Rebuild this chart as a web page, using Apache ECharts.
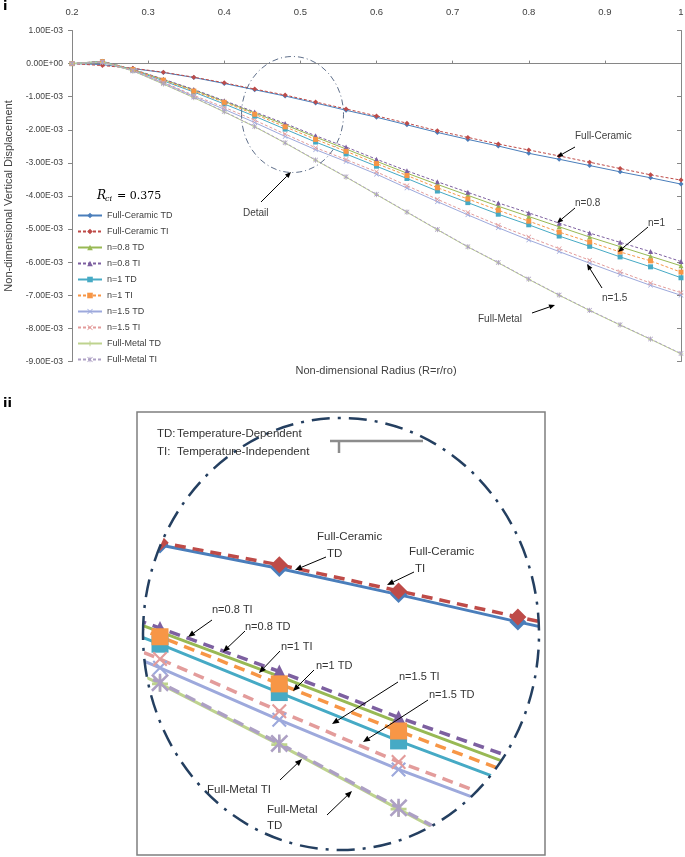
<!DOCTYPE html>
<html><head><meta charset="utf-8">
<script src="https://cdn.jsdelivr.net/npm/echarts@6/dist/echarts.min.js"></script>
<style>html,body{margin:0;padding:0;background:#fff}#c{width:685px;height:857px}</style>
</head><body><div id="c"></div>
<script>
// ---- data (displacement values in units of 1e-3) ----
const UNIT = 1e-3;
const radius = [0.20,0.24,0.28,0.32,0.36,0.40,0.44,0.48,0.52,0.56,0.60,0.64,0.68,0.72,0.76,0.80,0.84,0.88,0.92,0.96,1.00];
const fullCeramicTD = [0,-0.03,-0.15,-0.27,-0.42,-0.60,-0.79,-0.98,-1.19,-1.41,-1.62,-1.85,-2.08,-2.29,-2.49,-2.71,-2.89,-3.08,-3.27,-3.45,-3.64];
const fullCeramicTI = [0,-0.06,-0.14,-0.26,-0.41,-0.58,-0.77,-0.95,-1.16,-1.37,-1.58,-1.80,-2.03,-2.23,-2.43,-2.61,-2.79,-2.98,-3.17,-3.36,-3.52];
const n08TD = [0,0.07,-0.18,-0.48,-0.80,-1.14,-1.49,-1.85,-2.22,-2.58,-2.95,-3.31,-3.65,-3.98,-4.31,-4.62,-4.93,-5.24,-5.53,-5.82,-6.11];
const n08TI = [0,0.07,-0.17,-0.47,-0.78,-1.12,-1.46,-1.81,-2.18,-2.52,-2.89,-3.24,-3.57,-3.89,-4.21,-4.51,-4.82,-5.12,-5.40,-5.68,-5.98];
const n1TD = [0,0.06,-0.19,-0.52,-0.86,-1.22,-1.59,-1.98,-2.37,-2.73,-3.10,-3.47,-3.85,-4.20,-4.55,-4.87,-5.21,-5.52,-5.84,-6.14,-6.47];
const n1TI = [0,0.06,-0.18,-0.50,-0.83,-1.17,-1.53,-1.91,-2.29,-2.65,-3.02,-3.38,-3.75,-4.09,-4.43,-4.76,-5.09,-5.39,-5.69,-5.96,-6.30];
const n15TD = [0,0.05,-0.21,-0.58,-0.99,-1.38,-1.78,-2.20,-2.60,-2.96,-3.34,-3.76,-4.17,-4.57,-4.96,-5.33,-5.68,-6.03,-6.37,-6.70,-7.00];
const n15TI = [0,0.05,-0.20,-0.56,-0.96,-1.32,-1.71,-2.13,-2.54,-2.90,-3.27,-3.69,-4.10,-4.50,-4.88,-5.24,-5.59,-5.94,-6.29,-6.63,-6.92];
const fullMetalTD = [0,0.04,-0.22,-0.62,-1.03,-1.46,-1.91,-2.40,-2.92,-3.43,-3.96,-4.49,-5.02,-5.54,-6.02,-6.52,-7.00,-7.46,-7.90,-8.33,-8.77];
const fullMetalTI = [0,0.04,-0.22,-0.61,-1.02,-1.45,-1.90,-2.39,-2.91,-3.42,-3.95,-4.48,-5.01,-5.53,-6.01,-6.51,-6.99,-7.45,-7.89,-8.32,-8.76];
const xTicks = [0.2,0.3,0.4,0.5,0.6,0.7,0.8,0.9,1];

// ---- symbols ----
const SYM_X = 'path://M0,1 L1,0 L5,4 L9,0 L10,1 L6,5 L10,9 L9,10 L5,6 L1,10 L0,9 L4,5 Z';
const SYM_AST = 'path://M0,1 L1,0 L5,4 L9,0 L10,1 L6,5 L10,9 L9,10 L5,6 L1,10 L0,9 L4,5 Z M4.3,0 L5.7,0 L5.7,10 L4.3,10 Z';
const SYM_PLUS = 'path://M4.2,0 L5.8,0 L5.8,4.2 L10,4.2 L10,5.8 L5.8,5.8 L5.8,10 L4.2,10 L4.2,5.8 L0,5.8 L0,4.2 L4.2,4.2 Z';

const SERIES = [
  {name:'Full-Ceramic TD', vals:fullCeramicTD, color:'#4A7EBB', dash:false, sym:'diamond', ms:5, ds:17},
  {name:'Full-Ceramic TI', vals:fullCeramicTI, color:'#BE4B48', dash:true,  sym:'diamond', ms:5, ds:17},
  {name:'n=0.8 TD', vals:n08TD, color:'#98B954', dash:false, sym:'triangle', ms:5, ds:14},
  {name:'n=0.8 TI', vals:n08TI, color:'#7D60A0', dash:true,  sym:'triangle', ms:5, ds:14},
  {name:'n=1 TD', vals:n1TD, color:'#46AAC5', dash:false, sym:'rect', ms:5, ds:17},
  {name:'n=1 TI', vals:n1TI, color:'#F79646', dash:true,  sym:'rect', ms:5, ds:17},
  {name:'n=1.5 TD', vals:n15TD, color:'#9DA9DC', dash:false, sym:SYM_X, ms:5, ds:15},
  {name:'n=1.5 TI', vals:n15TI, color:'#E39C9B', dash:true,  sym:SYM_X, ms:5, ds:15},
  {name:'Full-Metal TD', vals:fullMetalTD, color:'#BED38E', dash:false, sym:SYM_PLUS, ms:5, ds:16},
  {name:'Full-Metal TI', vals:fullMetalTI, color:'#ADA0C4', dash:true,  sym:SYM_AST, ms:5, ds:18}
];

function fmtE(v){
  if (Math.abs(v) < 1e-12) return '0.00E+00';
  let e = Math.floor(Math.log10(Math.abs(v)) + 1e-9);
  let ms = (v/Math.pow(10,e)).toFixed(2);
  if (Math.abs(parseFloat(ms)) >= 10){ e += 1; ms = (v/Math.pow(10,e)).toFixed(2); }
  return ms + 'E' + (e<0?'-':'+') + String(Math.abs(e)).padStart(2,'0');
}

const series = [];
SERIES.forEach(s => {
  const data = radius.map((x,i)=>[x, s.vals[i]*UNIT]);
  series.push({
    type:'line', name:s.name, xAxisIndex:0, yAxisIndex:0, data,
    symbol:s.sym, symbolSize:s.ms, showSymbol:true, silent:true,
    lineStyle:{color:s.color, width:1, type: s.dash ? [3,2] : 'solid'},
    itemStyle:{color:s.color}, emphasis:{disabled:true}
  });
});
SERIES.forEach(s => {
  const data = radius.map((x,i)=>[x, s.vals[i]*UNIT]);
  series.push({
    type:'line', name:s.name, xAxisIndex:2, yAxisIndex:2, data,
    symbol:s.sym, symbolSize:s.ds, showSymbol:true, silent:true,
    lineStyle:{color:s.color, width: s.dash?3.5:3, type: s.dash ? [11,7] : 'solid'},
    itemStyle:{color:s.color}, emphasis:{disabled:true}
  });
});

// ---- helpers for annotations ----
const FONT = 'Liberation Sans, Arial, sans-serif';
function txt(x,y,t,size,opt){
  opt = opt||{};
  return {type:'text', x, y, z:120, silent:true,
    style:{text:t, font:(opt.style||'')+' '+(opt.weight||'normal')+' '+size+'px '+(opt.family||FONT),
      fill:opt.color||'#404040', align:opt.align||'left', verticalAlign:'middle'}};
}
function arrow(x1,y1,x2,y2,w,h){
  const a = Math.atan2(y2-y1,x2-x1), hw = h*0.42;
  const bx = x2-h*Math.cos(a), by = y2-h*Math.sin(a);
  return [
    {type:'line', z:120, silent:true, shape:{x1,y1,x2:bx,y2:by}, style:{stroke:'#000', lineWidth:w}},
    {type:'polygon', z:120, silent:true, shape:{points:[[x2,y2],[bx+hw*Math.sin(a),by-hw*Math.cos(a)],[bx-hw*Math.sin(a),by+hw*Math.cos(a)]]}, style:{fill:'#000'}}
  ];
}

// detail mask: a white area around the box, with an elliptical hole
const BX0=138, BY0=413, BX1=544, BY1=854, ECX=341, ECY=634, ERX=198, ERY=216;
const MX0=120, MY0=405, MX1=565, MY1=857;
const maskPts = [[MX0,ECY],[MX0,MY0],[MX1,MY0],[MX1,MY1],[MX0,MY1],[MX0,ECY]];
for (let k=0;k<=160;k++){ const t = Math.PI - 2*Math.PI*k/160; maskPts.push([ECX+ERX*Math.cos(t), ECY+ERY*Math.sin(t)]); }

const graphics = [
  txt(3,7,'i',13,{weight:'bold', color:'#000', family:'DejaVu Sans'}),
  txt(3,404,'ii',13,{weight:'bold', color:'#000', family:'DejaVu Sans'}),
  // R_ci label
  txt(97,196,'R',12,{style:'italic', family:'DejaVu Serif', color:'#000'}),
  txt(105,199,'ci',8,{style:'italic', family:'DejaVu Serif', color:'#000'}),
  txt(117,196,'= 0.375',11,{family:'DejaVu Serif', color:'#000'}),
  txt(376,371,'Non-dimensional Radius (R=r/ro)',11,{align:'center'}),
  // main annotations
  txt(575,136,'Full-Ceramic',10), ...arrow(575,147,557,157,1,6),
  txt(575,203,'n=0.8',10), ...arrow(575,208,557,223,1,6),
  txt(648,223,'n=1',10), ...arrow(648,227,618,252,1,6),
  txt(602,298,'n=1.5',10), ...arrow(602,288,587,264,1,6),
  txt(478,319,'Full-Metal',10), ...arrow(532,313,555,305,1,6),
  txt(243,213,'Detail',10), ...arrow(261,202,291,172,1,6),
  {type:'ellipse', z:110, silent:true, shape:{cx:292.5, cy:114.5, rx:51, ry:58}, style:{fill:'none', stroke:'#5F6F8A', lineWidth:1, lineDash:[6,3,1,3]}},
  // detail panel
  {type:'polygon', z:100, silent:true, shape:{points:maskPts}, style:{fill:'#fff', stroke:null}},
  {type:'ellipse', z:110, silent:true, shape:{cx:ECX, cy:ECY, rx:ERX, ry:ERY}, style:{fill:'none', stroke:'#243F60', lineWidth:2.5, lineDash:[18,8,3,8]}},
  {type:'rect', z:111, silent:true, shape:{x:137, y:412, width:408, height:443}, style:{fill:'none', stroke:'#7F7F7F', lineWidth:1.5}},
  {type:'polyline', z:112, silent:true, shape:{points:[[423,441],[330,441]]}, style:{stroke:'#8C8C8C', lineWidth:2.5}},
  {type:'polyline', z:112, silent:true, shape:{points:[[339,441],[339,453]]}, style:{stroke:'#8C8C8C', lineWidth:2.5}},
  txt(157,434,'TD:',11.5,{color:'#333'}), txt(177,434,'Temperature-Dependent',11.5,{color:'#333'}),
  txt(157,452,'TI:',11.5,{color:'#333'}), txt(177,452,'Temperature-Independent',11.5,{color:'#333'}),
  txt(317,537,'Full-Ceramic',11.5,{color:'#333'}), txt(327,554,'TD',11.5,{color:'#333'}), ...arrow(326,557,295,570,1,7),
  txt(409,552,'Full-Ceramic',11.5,{color:'#333'}), txt(415,569,'TI',11.5,{color:'#333'}), ...arrow(414,572,387,585,1,7),
  txt(212,610,'n=0.8 TI',11,{color:'#333'}), ...arrow(212,620,188,637,1,7),
  txt(245,627,'n=0.8 TD',11,{color:'#333'}), ...arrow(245,631,223,652,1,7),
  txt(281,647,'n=1 TI',11,{color:'#333'}), ...arrow(280,651,259,673,1,7),
  txt(316,666,'n=1 TD',11,{color:'#333'}), ...arrow(314,670,293,691,1,7),
  txt(399,677,'n=1.5 TI',11,{color:'#333'}), ...arrow(398,682,332,724,1,7),
  txt(429,695,'n=1.5 TD',11,{color:'#333'}), ...arrow(428,700,363,742,1,7),
  txt(207,790,'Full-Metal TI',11.5,{color:'#333'}), ...arrow(280,780,302,759,1,7),
  txt(267,810,'Full-Metal',11.5,{color:'#333'}), txt(267,826,'TD',11.5,{color:'#333'}), ...arrow(327,815,352,791,1,7)
];

const chart = echarts.init(document.getElementById('c'), null, {renderer:'canvas'});
chart.setOption({
  animation:false,
  backgroundColor:'#fff',
  textStyle:{fontFamily:FONT},
  grid:[
    {left:72, right:4, top:30.5, bottom:495.5, containLabel:false, outerBoundsMode:'none'},
    {left:BX0, top:BY0, width:BX1-BX0, height:BY1-BY0, containLabel:false, outerBoundsMode:'none'}
  ],
  legend:{
    data: SERIES.map(s=>s.name), orient:'vertical', left:72, top:205,
    itemWidth:24, itemHeight:7, itemGap:5, selectedMode:false,
    textStyle:{fontSize:9, color:'#404040', lineHeight:11, fontFamily:FONT}
  },
  xAxis:[
    {type:'value', gridIndex:0, position:'top', min:0.2, max:1, interval:0.1,
     axisLine:{show:false, onZero:false}, axisTick:{show:false}, splitLine:{show:false},
     axisLabel:{margin:13, fontSize:9.5, color:'#404040', formatter:v=>xTicks.includes(Math.round(v*10)/10)?String(Math.round(v*10)/10):''}},
    {type:'value', gridIndex:0, position:'bottom', min:0.2, max:1, interval:0.1,
     axisLine:{show:true, onZero:true, lineStyle:{color:'#868686', width:1}},
     axisTick:{show:true, inside:true, length:3, lineStyle:{color:'#868686'}},
     axisLabel:{show:false}, splitLine:{show:false}},
    {type:'value', gridIndex:1, show:false, min:0.43262, max:0.56877}
  ],
  yAxis:[
    {type:'value', gridIndex:0, position:'left', min:-0.009, max:0.001, interval:0.001,
     axisLine:{show:true, onZero:false, lineStyle:{color:'#868686'}},
     axisTick:{show:true, length:4, lineStyle:{color:'#868686'}},
     splitLine:{show:false},
     axisLabel:{fontSize:8.5, color:'#404040', margin:9, formatter:fmtE},
     name:'Non-dimensional Vertical Displacement', nameLocation:'middle', nameGap:57,
     nameTextStyle:{fontSize:11, color:'#404040'}},
    {type:'value', gridIndex:0, position:'right', min:-0.009, max:0.001, interval:0.001,
     axisLine:{show:true, onZero:false, lineStyle:{color:'#868686'}},
     axisTick:{show:true, inside:true, length:4, lineStyle:{color:'#868686'}},
     axisLabel:{show:false}, splitLine:{show:false}},
    {type:'value', gridIndex:1, show:false, min:-3.282e-3, max:0.2745e-3}
  ],
  series,
  graphic:{elements:graphics}
});
</script></body></html>
